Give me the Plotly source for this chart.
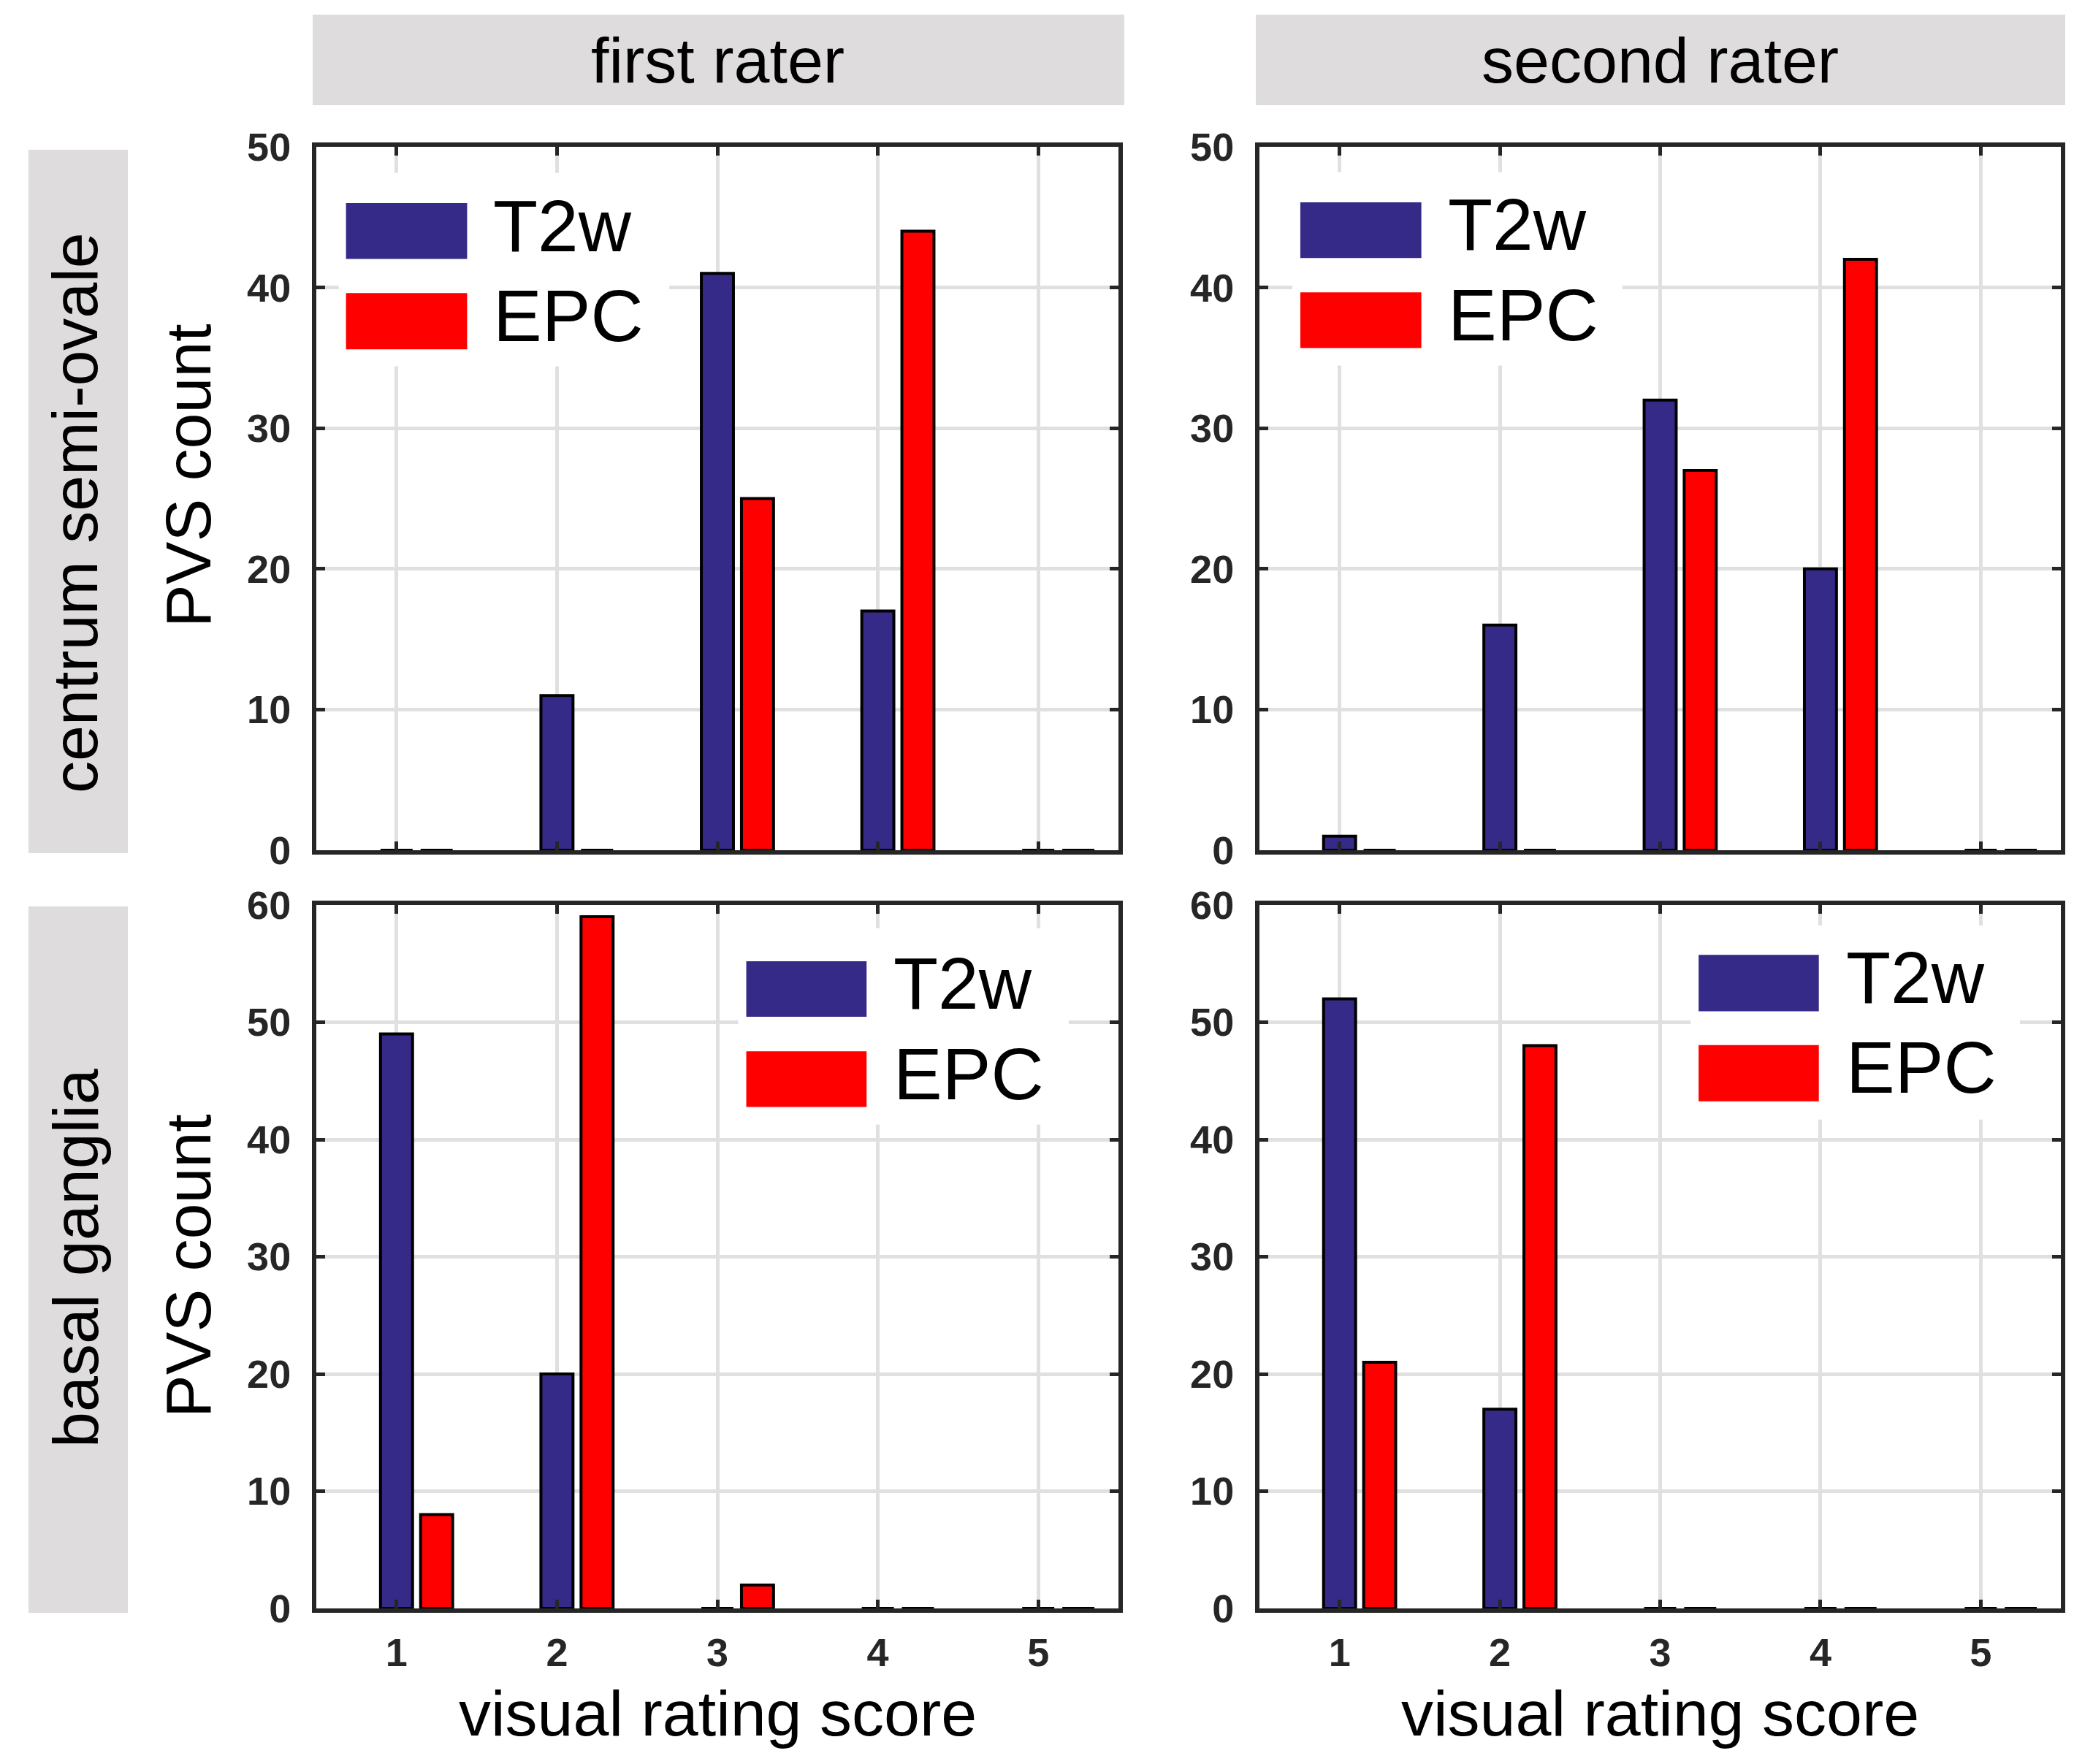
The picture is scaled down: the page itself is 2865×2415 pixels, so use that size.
import plotly.graph_objects as go

# ---------------- data ----------------
scores = [1, 2, 3, 4, 5]
series_names = ["T2w", "EPC"]
col_titles = ["first rater", "second rater"]
row_titles = ["centrum semi-ovale", "basal ganglia"]
x_title = "visual rating score"
y_title = "PVS count"

cso_first_t2w = [0, 11, 41, 17, 0]
cso_first_epc = [0, 0, 25, 44, 0]
cso_second_t2w = [1, 16, 32, 20, 0]
cso_second_epc = [0, 0, 27, 42, 0]
bg_first_t2w = [49, 20, 0, 0, 0]
bg_first_epc = [8, 59, 2, 0, 0]
bg_second_t2w = [52, 17, 0, 0, 0]
bg_second_epc = [21, 48, 0, 0, 0]

y_max_rows = [50, 60]
y_ticks_rows = [[0, 10, 20, 30, 40, 50], [0, 10, 20, 30, 40, 50, 60]]

# ---------------- styling ----------------
W, H = 2865, 2415
FONT = "Liberation Sans, Arial, Helvetica, sans-serif"
C_T2W = "#352A87"
C_EPC = "#FF0000"
AX_COL = "#262626"
GRID = "#e0e0e0"
STRIP = "#dedcdd"

def px(p):
    return p / W

def py(p):
    return 1 - p / H

col_px = [(433, 1531), (1724, 2821)]
row_px = [(201, 1164), (1239, 2202)]

panels = [
    (0, 0, cso_first_t2w, cso_first_epc),
    (0, 1, cso_second_t2w, cso_second_epc),
    (1, 0, bg_first_t2w, bg_first_epc),
    (1, 1, bg_second_t2w, bg_second_epc),
]

# legend layout per panel (axis-domain fractions)
legend_pos = {
    (0, 0): dict(box=(0.028, 0.440, 0.688, 0.963), sx=(0.037, 0.188),
                 ya=(0.8405, 0.920), yb=(0.712, 0.792), tx=0.219),
    (0, 1): dict(box=(0.041, 0.453, 0.689, 0.964), sx=(0.051, 0.202),
                 ya=(0.842, 0.921), yb=(0.714, 0.793), tx=0.233),
    (1, 0): dict(box=(0.526, 0.938, 0.688, 0.967), sx=(0.536, 0.686),
                 ya=(0.841, 0.920), yb=(0.713, 0.792), tx=0.718),
    (1, 1): dict(box=(0.538, 0.949, 0.695, 0.971), sx=(0.548, 0.698),
                 ya=(0.849, 0.929), yb=(0.721, 0.801), tx=0.730),
}

fig = go.Figure()
shapes = []
annotations = []
layout_axes = {}

for (r, c, t2w, epc) in panels:
    k = r * 2 + c + 1
    xa = "x" if k == 1 else f"x{k}"
    ya = "y" if k == 1 else f"y{k}"
    fig.add_trace(go.Bar(
        x=scores, y=t2w, name=series_names[0], xaxis=xa, yaxis=ya,
        width=0.2, offset=-0.1, marker=dict(color=C_T2W, line=dict(color="black", width=4)),
        showlegend=False))
    fig.add_trace(go.Bar(
        x=scores, y=epc, name=series_names[1], xaxis=xa, yaxis=ya,
        width=0.2, offset=0.15, marker=dict(color=C_EPC, line=dict(color="black", width=4)),
        showlegend=False))

    x0, x1 = col_px[c]
    y0, y1 = row_px[r]
    xkey = "xaxis" if k == 1 else f"xaxis{k}"
    ykey = "yaxis" if k == 1 else f"yaxis{k}"
    layout_axes[xkey] = dict(
        domain=[px(x0), px(x1)], anchor=ya, range=[0.5, 5.5],
        tickvals=scores, ticktext=[str(s) for s in scores],
        showticklabels=(r == 1), ticks="inside", ticklen=12, tickwidth=5, tickcolor=AX_COL,
        showline=True, linecolor=AX_COL, linewidth=6, mirror="ticks",
        showgrid=True, gridcolor=GRID, gridwidth=5, zeroline=False,
        tickfont=dict(family=FONT, size=54, color=AX_COL, weight="bold"),
        ticklabelstandoff=8, fixedrange=True, automargin=False,
    )
    layout_axes[ykey] = dict(
        domain=[py(y1), py(y0)], anchor=xa, range=[0, y_max_rows[r]],
        tickvals=y_ticks_rows[r],
        ticks="inside", ticklen=12, tickwidth=5, tickcolor=AX_COL,
        showline=True, linecolor=AX_COL, linewidth=6, mirror="ticks",
        showgrid=True, gridcolor=GRID, gridwidth=5, zeroline=False,
        tickfont=dict(family=FONT, size=54, color=AX_COL, weight="bold"),
        ticklabelstandoff=18, fixedrange=True, automargin=False,
    )

    # manual legend (white box, colour swatches, labels)
    lp = legend_pos[(r, c)]
    bx0, bx1, by0, by1 = lp["box"]
    dx = f"{xa} domain"
    dy = f"{ya} domain"
    shapes.append(dict(type="rect", xref=dx, yref=dy, x0=bx0, x1=bx1, y0=by0, y1=by1,
                       fillcolor="white", line=dict(width=0), layer="above"))
    for (yy, col, nm) in [(lp["ya"], C_T2W, series_names[0]), (lp["yb"], C_EPC, series_names[1])]:
        shapes.append(dict(type="rect", xref=dx, yref=dy, x0=lp["sx"][0], x1=lp["sx"][1],
                           y0=yy[0], y1=yy[1], fillcolor=col, line=dict(width=0), layer="above"))
        annotations.append(dict(xref=dx, yref=dy, x=lp["tx"], y=(yy[0] + yy[1]) / 2 + 0.008,
                                xanchor="left", yanchor="middle", text=nm, showarrow=False,
                                font=dict(family=FONT, size=100, color="black")))

# column strips
strip_cols = [(428, 1539), (1719, 2827)]
for c, (sx0, sx1) in enumerate(strip_cols):
    shapes.append(dict(type="rect", xref="paper", yref="paper", x0=px(sx0), x1=px(sx1),
                       y0=py(144), y1=py(20), fillcolor=STRIP, line=dict(width=0), layer="below"))
    annotations.append(dict(xref="paper", yref="paper", x=px((col_px[c][0] + col_px[c][1]) / 2),
                            y=py(82), xanchor="center", yanchor="middle", text=col_titles[c],
                            showarrow=False, font=dict(family=FONT, size=88, color="black")))

# row strips
strip_rows = [(205, 1168), (1241, 2208)]
row_text_y = [702, 1723]
for r, (sy0, sy1) in enumerate(strip_rows):
    shapes.append(dict(type="rect", xref="paper", yref="paper", x0=px(39), x1=px(175),
                       y0=py(sy1), y1=py(sy0), fillcolor=STRIP, line=dict(width=0), layer="below"))
    annotations.append(dict(xref="paper", yref="paper", x=px(103), y=py(row_text_y[r]),
                            xanchor="center", yanchor="middle", text=row_titles[r], showarrow=False,
                            textangle=-90, font=dict(family=FONT, size=88, color="black")))

# y titles
ytitle_y = [651, 1733]
for r in range(2):
    annotations.append(dict(xref="paper", yref="paper", x=px(257), y=py(ytitle_y[r]),
                            xanchor="center", yanchor="middle", text=y_title, showarrow=False,
                            textangle=-90, font=dict(family=FONT, size=88, color="black")))

# x titles
for c in range(2):
    x0, x1 = col_px[c]
    annotations.append(dict(xref="paper", yref="paper", x=px((x0 + x1) / 2), y=py(2345),
                            xanchor="center", yanchor="middle", text=x_title, showarrow=False,
                            font=dict(family=FONT, size=88, color="black")))

fig.update_layout(
    width=W, height=H, autosize=False,
    margin=dict(l=0, r=0, t=0, b=0, pad=0),
    paper_bgcolor="white", plot_bgcolor="white",
    barmode="overlay", showlegend=False,
    shapes=shapes, annotations=annotations,
    font=dict(family=FONT),
    **layout_axes,
)

fig.write_html(
    "out.html",
    config={"displayModeBar": False},
    post_script="document.body.style.margin='0';document.body.style.overflow='hidden';",
)
